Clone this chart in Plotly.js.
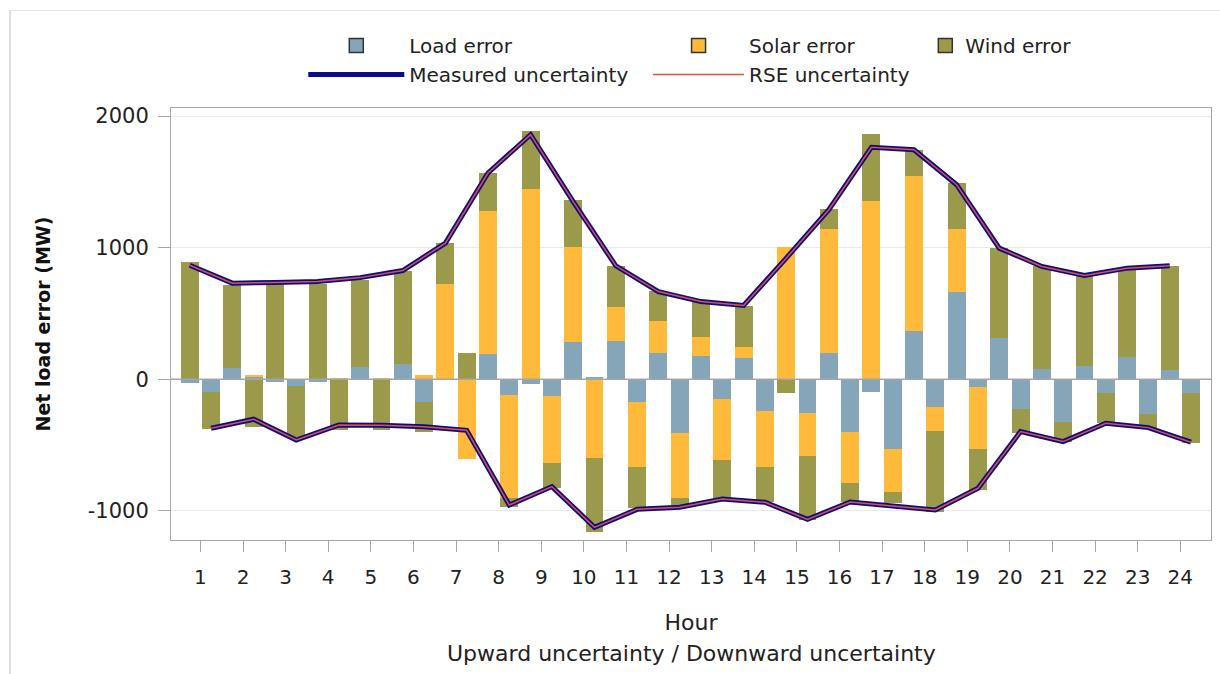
<!DOCTYPE html>
<html>
<head>
<meta charset="utf-8">
<script src="https://cdn.plot.ly/plotly-3.0.1.min.js"></script>
<style>
  html, body { margin: 0; padding: 0; background: #fff; }
  #wrap { position: relative; width: 1220px; height: 674px; }
  #chart { width: 1220px; height: 674px; }
  #frame { position: absolute; left: 9px; top: 10px; right: 0; bottom: 0;
           border-left: 2px solid #dedede; border-top: 1px solid #e8e8e8; pointer-events: none; }
</style>
</head>
<body>
<div id="wrap"><div id="chart"></div><div id="frame"></div></div>
<script>
// ---- data ----
const hours = [1,2,3,4,5,6,7,8,9,10,11,12,13,14,15,16,17,18,19,20,21,22,23,24];

// Upward uncertainty components (MW)
const upLoad  = [-30, 84, -24, -24, 91, 114, 0, 192, -36, 286, 294, 202, 177, 160, 0, 198, -99, 367, 666, 312, 76, 101, 172, 71];
const upSolar = [0, 0, 0, 0, 0, 0, 722, 1088, 1445, 715, 254, 241, 142, 88, 1001, 943, 1356, 1179, 475, 0, 0, 0, 0, 0];
const upWind  = [894, 633, 722, 722, 664, 710, 312, 287, 443, 363, 316, 231, 264, 305, -106, 154, 507, 198, 350, 684, 781, 687, 659, 786];

// Downward uncertainty components (MW)
const downLoad  = [-94, 20, -49, 0, 0, -170, 0, -119, -127, 20, -170, -411, -152, -240, -258, -400, -532, -213, -56, -228, -322, -102, -264, -102];
const downSolar = [0, 8, 0, 10, 10, 30, -608, -786, -507, -596, -494, -494, -462, -424, -325, -391, -323, -178, -476, 0, 0, 0, 0, 0];
const downWind  = [-286, -360, -388, -386, -386, -233, 202, -64, -195, -563, -317, -51, -291, -269, -487, -142, -88, -616, -310, -178, -152, -228, -109, -385];

// Uncertainty envelopes (MW)
const measuredUp   = [866, 730, 735, 742, 772, 826, 1034, 1567, 1858, 1350, 862, 666, 590, 560, 920, 1288, 1762, 1744, 1478, 996, 857, 788, 844, 862];
const measuredDown = [-373, -304, -462, -348, -350, -361, -388, -956, -816, -1126, -989, -973, -910, -935, -1065, -933, -964, -994, -829, -398, -474, -335, -368, -479];
const rseUp   = measuredUp;
const rseDown = measuredDown;

const seriesNames = ['Load error', 'Solar error', 'Wind error', 'Measured uncertainty', 'RSE uncertainty'];
const yTickVals = [-1000, 0, 1000, 2000];
const yTickText = ['-1000', '0', '1000', '2000'];

// ---- styling ----
const C_LOAD = '#84a6b8', C_SOLAR = '#ffb93b', C_WIND = '#9b9a4b';
const C_MEAS = '#0c0c8a', C_RSE = '#d9553c';
const BAR_W = 0.42, SHIFT = 0.25;
const FONT = 'DejaVu Sans, Verdana, sans-serif';

const xUp = hours.map(h => h - SHIFT);
const xDown = hours.map(h => h + SHIFT);

function barTrace(x, y, color, name) {
  return { type: 'bar', x: x, y: y, width: BAR_W, name: name, legendgroup: name,
           showlegend: false, marker: { color: color, line: { width: 0 } }, hoverinfo: 'x+y+name' };
}
function legendSquare(color, name, legendId) {
  return { type: 'scatter', mode: 'markers', x: [null], y: [null], name: name, legendgroup: name,
           legend: legendId, showlegend: true,
           marker: { symbol: 'square', size: 14, color: color, line: { color: '#333', width: 1.5 } } };
}

const traces = [
  barTrace(xUp, upLoad, C_LOAD, seriesNames[0]),
  barTrace(xUp, upSolar, C_SOLAR, seriesNames[1]),
  barTrace(xUp, upWind, C_WIND, seriesNames[2]),
  barTrace(xDown, downLoad, C_LOAD, seriesNames[0]),
  barTrace(xDown, downSolar, C_SOLAR, seriesNames[1]),
  barTrace(xDown, downWind, C_WIND, seriesNames[2]),
  legendSquare(C_LOAD, seriesNames[0], 'legend'),
  { type: 'scatter', mode: 'lines', x: xUp, y: measuredUp, name: seriesNames[3], legendgroup: 'meas',
    legend: 'legend', showlegend: true, line: { color: C_MEAS, width: 5 } },
  { type: 'scatter', mode: 'lines', x: xDown, y: measuredDown, name: seriesNames[3], legendgroup: 'meas',
    showlegend: false, line: { color: C_MEAS, width: 5 } },
  legendSquare(C_SOLAR, seriesNames[1], 'legend2'),
  { type: 'scatter', mode: 'lines', x: xUp, y: rseUp, name: seriesNames[4], legendgroup: 'rse',
    legend: 'legend2', showlegend: true, line: { color: C_RSE, width: 1.5 } },
  { type: 'scatter', mode: 'lines', x: xDown, y: rseDown, name: seriesNames[4], legendgroup: 'rse',
    showlegend: false, line: { color: C_RSE, width: 1.5 } },
  legendSquare(C_WIND, seriesNames[2], 'legend3')
];

const legendBase = { orientation: 'v', xanchor: 'left', yanchor: 'top', y: 1.19, bgcolor: 'rgba(0,0,0,0)',
                     font: { family: FONT, size: 20, color: '#222' }, tracegroupgap: 0, traceorder: 'normal' };

const layout = {
  width: 1220, height: 674,
  margin: { l: 171, r: 9, t: 108, b: 134 },
  paper_bgcolor: '#fff', plot_bgcolor: '#fff',
  font: { family: FONT, size: 20, color: '#222' },
  barmode: 'relative', bargap: 0,
  showlegend: true,
  legend:  Object.assign({}, legendBase, { x: 0.1272, itemwidth: 96 }),
  legend2: Object.assign({}, legendBase, { x: 0.4587, itemwidth: 91 }),
  legend3: Object.assign({}, legendBase, { x: 0.7253, itemwidth: 30 }),
  xaxis: {
    range: [0.31, 24.72], tickmode: 'array', tickvals: hours,
    ticks: 'outside', ticklen: 11, tickcolor: '#a6a6a6', tickwidth: 1,
    showline: true, mirror: true, linecolor: '#a6a6a6', linewidth: 1,
    showgrid: false, zeroline: false, ticklabelstandoff: 8,
    tickfont: { family: FONT, size: 20, color: '#222' },
    title: { text: 'Hour', font: { family: FONT, size: 22, color: '#222' }, standoff: 26 }
  },
  yaxis: {
    range: [-1222, 2061], tickmode: 'array', tickvals: yTickVals, ticktext: yTickText,
    ticks: 'outside', ticklen: 12, tickcolor: '#a6a6a6', tickwidth: 1,
    showline: true, mirror: true, linecolor: '#a6a6a6', linewidth: 1,
    showgrid: true, gridcolor: '#e9e9e9', gridwidth: 1,
    zeroline: false, ticklabelstandoff: 5,
    tickfont: { family: FONT, size: 21, color: '#222' },
    title: { text: 'Net load error (MW)', font: { family: FONT, size: 19, color: '#111', weight: 'bold' }, standoff: 32 }
  },
  shapes: [
    { type: 'line', xref: 'paper', yref: 'y', x0: 0, x1: 1, y0: 0, y1: 0, layer: 'above',
      line: { color: '#a6a6a6', width: 1.5 } }
  ],
  annotations: [
    { text: 'Upward uncertainty / Downward uncertainty', xref: 'paper', yref: 'paper', x: 0.5, y: -0.2616,
      xanchor: 'center', yanchor: 'middle', showarrow: false, font: { family: FONT, size: 22, color: '#222' } }
  ]
};

Plotly.newPlot('chart', traces, layout, { displayModeBar: false, responsive: false });
</script>
</body>
</html>
